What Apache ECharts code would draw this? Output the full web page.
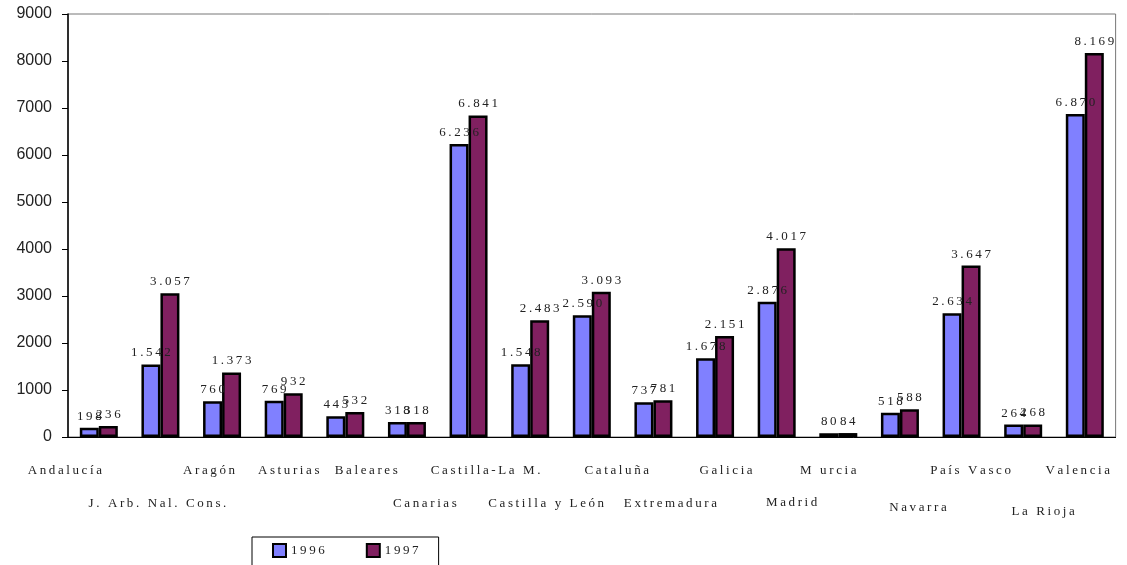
<!DOCTYPE html>
<html>
<head>
<meta charset="utf-8">
<script src="https://cdn.jsdelivr.net/npm/echarts@6/dist/echarts.min.js"></script>
<style>
html, body { margin: 0; padding: 0; background: #fff; }
#main { width: 1127px; height: 565px; }
</style>
</head>
<body>
<div id="main"></div>
<script>
var categories = ['Andalucía', 'J. Arb. Nal. Cons.', 'Aragón', 'Asturias', 'Baleares', 'Canarias',
  'Castilla-La M.', 'Castilla y León', 'Cataluña', 'Extremadura', 'Galicia', 'Madrid',
  'M urcia', 'Navarra', 'País Vasco', 'La Rioja', 'Valencia'];
var values1996 = [198, 1542, 760, 769, 443, 318, 6236, 1548, 2590, 737, 1678, 2876, 80, 518, 2634, 264, 6870];
var values1997 = [236, 3057, 1373, 932, 532, 318, 6841, 2483, 3093, 781, 2151, 4017, 84, 588, 3647, 268, 8169];
var yTicks = [0, 1000, 2000, 3000, 4000, 5000, 6000, 7000, 8000, 9000];

// placement of the category labels (as in the original sheet): x shift, y drop
var labelDx = [-34, -3, -13, 5, 21, 18, 17, 16, 25, 17, 11, 15, -10, 18, 9, 20, -7];
var labelDy = [0, 33, 0, 0, 0, 33, 0, 33, 0, 33, 0, 32, 0, 37, 0, 41, 0];

// letter spacing
function spaced(s) {
  return String(s).split('').join('\u2009');
}
function miles(v) {
  if (v < 1000) return String(v);
  var r = String(v % 1000);
  while (r.length < 3) r = '0' + r;
  return Math.floor(v / 1000) + '.' + r;
}

var serif = '"Liberation Serif", "DejaVu Serif", serif';

var rich = {};
categories.forEach(function (c, i) {
  var dx = labelDx[i];
  rich['r' + i] = {
    fontFamily: serif,
    fontSize: 13,
    color: '#222',
    padding: [2 * labelDy[i], dx < 0 ? -2 * dx : 0, 0, dx > 0 ? 2 * dx : 0]
  };
});

var myChart = echarts.init(document.getElementById('main'));
myChart.setOption({
  animation: false,
  grid: {
    left: 68,
    right: 11,
    top: 14,
    bottom: 128,
    show: true,
    borderColor: '#777',
    borderWidth: 1
  },
  legend: {
    left: 252,
    top: 537,
    padding: [6, 20, 8, 20],
    itemGap: 41,
    itemWidth: 13,
    itemHeight: 13,
    borderColor: '#000',
    borderWidth: 1,
    icon: 'rect',
    textStyle: {
      fontFamily: serif,
      fontSize: 13,
      color: '#222',
      padding: [10, 0, 0, 0]
    },
    formatter: function (n) { return spaced(n); },
    data: ['1996', '1997']
  },
  xAxis: {
    type: 'category',
    data: categories,
    axisLine: { lineStyle: { color: '#000', width: 1 } },
    axisTick: { length: 5, lineStyle: { color: '#000' } },
    axisLabel: {
      interval: 0,
      margin: 26,
      fontFamily: serif,
      fontSize: 13,
      lineHeight: 16,
      color: '#222',
      rich: rich,
      formatter: function (v, i) {
        return '{r' + i + '|' + spaced(v) + '}';
      }
    }
  },
  yAxis: {
    type: 'value',
    min: yTicks[0],
    max: yTicks[yTicks.length - 1],
    interval: 1000,
    splitLine: { show: false },
    axisLine: { show: true, lineStyle: { color: '#000', width: 1.5 } },
    axisTick: { show: true, length: 6, lineStyle: { color: '#000' } },
    axisLabel: {
      fontFamily: '"Liberation Sans", Arial, sans-serif',
      fontSize: 16,
      color: '#222',
      margin: 16,
      formatter: function (v) { return String(v); }
    }
  },
  series: [{
    name: '1996',
    type: 'bar',
    data: values1996,
    barWidth: 19,
    barGap: '0%',
    itemStyle: { color: '#8080FF', borderColor: '#000', borderWidth: 2.5 },
    label: {
      show: true,
      position: 'top',
      distance: 5,
      fontFamily: serif,
      fontSize: 13,
      color: '#222',
      formatter: function (p) { return spaced(miles(p.value)); }
    }
  }, {
    name: '1997',
    type: 'bar',
    data: values1997,
    barWidth: 19,
    itemStyle: { color: '#802060', borderColor: '#000', borderWidth: 2.5 },
    label: {
      show: true,
      position: 'top',
      distance: 5,
      fontFamily: serif,
      fontSize: 13,
      color: '#222',
      formatter: function (p) { return spaced(miles(p.value)); }
    }
  }]
});
</script>
</body>
</html>
